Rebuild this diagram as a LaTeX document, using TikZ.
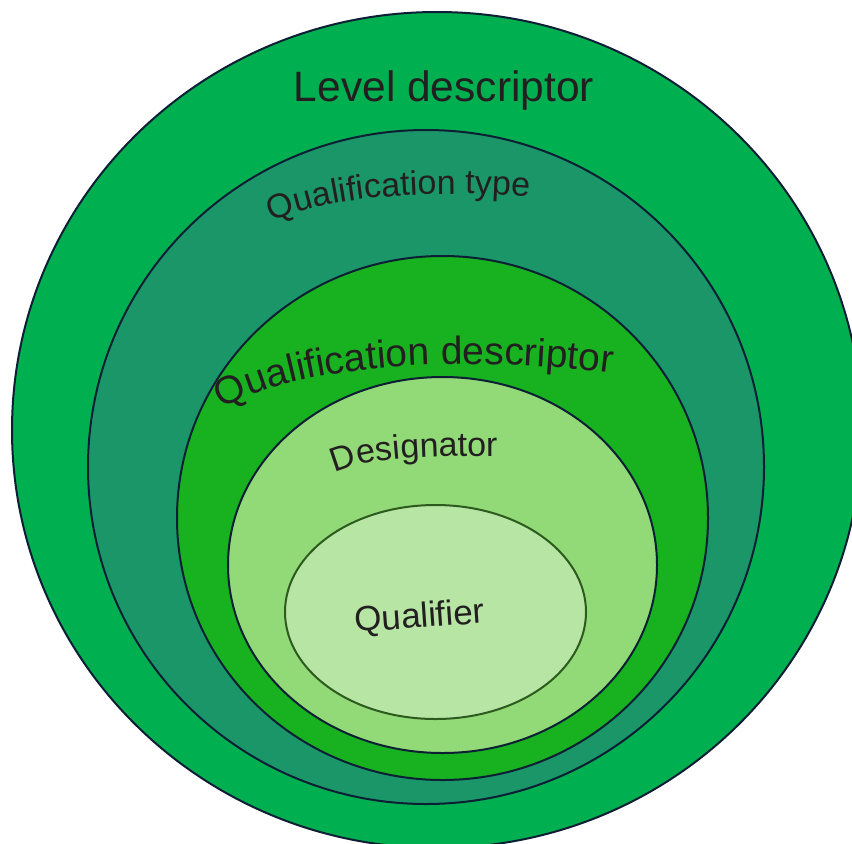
\documentclass[tikz,border=0pt]{standalone}
\usepackage{fontspec}
\setmainfont{Liberation Sans}
\usetikzlibrary{decorations.text}
\definecolor{cLevel}{HTML}{00AF50}
\definecolor{cType}{HTML}{1A9669}
\definecolor{cQdesc}{HTML}{18B120}
\definecolor{cDesig}{HTML}{92D977}
\definecolor{cQual}{HTML}{B6E5A4}
\definecolor{cEdge}{HTML}{0D1F35}
\definecolor{cEdgeIn}{HTML}{2D5A1E}
\definecolor{cTxt}{HTML}{231F20}
\newcommand\fsQT{\fontsize{13.6}{13.6}\selectfont}
\newcommand\fsQD{\fontsize{15.6}{15.6}\selectfont}
\newcommand\fsDG{\fontsize{13.6}{13.6}\selectfont}
\tikzset{
  ring/.style={draw=cEdge, line width=0.8pt},
  lbl/.style={text=cTxt, inner sep=0pt},
}
\begin{document}
\begin{tikzpicture}[x=0.4pt,y=0.4pt]
\useasboundingbox (0,0) rectangle (852,843);
\clip (0,0) rectangle (852,843);
% ellipses
\draw[ring, fill=cLevel] (437,413) ellipse [x radius=425, y radius=418];
\draw[ring, fill=cType] (426,376) ellipse [x radius=338, y radius=337];
\draw[ring, fill=cQdesc] (442.5,325) ellipse [x radius=265.5, y radius=262];
\draw[ring, fill=cDesig] (442.5,278) ellipse [x radius=214.5, y radius=188];
\draw[ring, draw=cEdgeIn, fill=cQual] (435.5,231) ellipse [x radius=150.5, y radius=107];
% labels
\node[lbl, anchor=base, font=\fontsize{17}{17}\selectfont] (level) at (444,742) {Level descriptor};
\path[decorate, decoration={text along path, text color=cTxt,
  text={|\fsQT|Qualification type}}]
  (272,621) .. controls (330,648) and (450,658) .. (590,640);
\path[decorate, decoration={text along path, text color=cTxt,
  text={|\fsQD|Qualification descriptor}}]
  (222,434) .. controls (300,480) and (480,492) .. (660,463);
\path[decorate, decoration={text along path, text color=cTxt,
  text={|\fsDG|Designator}}]
  (335,370) .. controls (370,386) and (420,387) .. (540,387);
\node[lbl, anchor=base west, rotate=4, font=\fontsize{14}{14}\selectfont] (qual) at (355,211) {Qualifier};
\end{tikzpicture}
\end{document}
